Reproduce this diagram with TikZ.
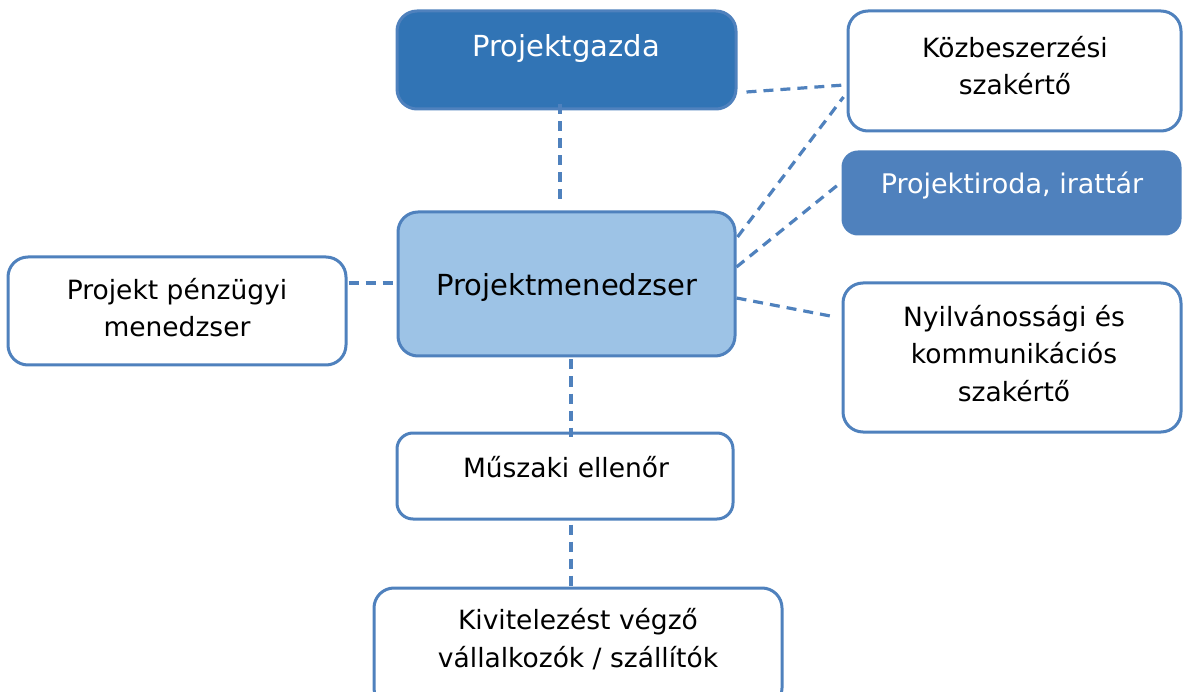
\documentclass[tikz,border=0pt]{standalone}
\usepackage{fontspec}
\setmainfont{DejaVu Sans}
\usetikzlibrary{calc}
\definecolor{dkblue}{HTML}{3174B5}
\definecolor{midblue}{HTML}{4F81BD}
\definecolor{ltblue}{HTML}{9DC3E6}
\definecolor{edge}{HTML}{4F81BD}
\begin{document}
\begin{tikzpicture}[x=1pt,y=-1pt,
  box/.style={draw=edge,line width=3pt,rounded corners=20pt,fill=white,inner sep=0pt},
  conn/.style={draw=edge,line width=3.2pt,dash pattern=on 10pt off 7pt},
  txt/.style={font=\fontsize{26.5}{37.5}\selectfont,align=center,anchor=base,inner sep=0pt},
  bigtxt/.style={font=\fontsize{29}{37.5}\selectfont,align=center,anchor=base,inner sep=0pt}]
\useasboundingbox (0,0) rectangle (1183,692);
% boxes
\node[box,fill=dkblue,minimum width=339pt,minimum height=98pt] (pg) at (566.5,60) {};
\node[box,minimum width=333pt,minimum height=120pt] (kb) at (1014.5,71) {};
\node[box,fill=midblue,draw=midblue,minimum width=337pt,minimum height=82pt,rounded corners=15pt] (pi) at (1011.5,193) {};
\node[box,fill=ltblue,minimum width=337pt,minimum height=144pt] (pm) at (566.5,284) {};
\node[box,minimum width=338pt,minimum height=108pt] (pf) at (177,311) {};
\node[box,minimum width=338pt,minimum height=149pt] (ny) at (1012,357.5) {};
\node[box,minimum width=336pt,minimum height=86pt,rounded corners=16pt] (me) at (565,476) {};
\node[box,minimum width=408pt,minimum height=120pt] (kv) at (578,648) {};
% texts (anchor base = baseline of the last line)
\node[bigtxt,text=white] (tpg) at (566,57) {Projektgazda};
\node[txt] (tkb) at (1015,95) {Közbeszerzési\\szakértő};
\node[txt,font=\fontsize{27}{37.5}\selectfont,text=white] (tpi) at (1012,194) {Projektiroda, irattár};
\node[bigtxt] (tpm) at (567,296) {Projektmenedzser};
\node[txt] (tpf) at (177,337) {Projekt pénzügyi\\menedzser};
\node[txt] (tny) at (1014,401) {Nyilvánossági és\\kommunikációs\\szakértő};
\node[txt] (tme) at (566,477) {Műszaki ellenőr};
\node[txt] (tkv) at (578,667) {Kivitelezést végző\\vállalkozók / szállítók};
% connectors
\draw[conn] ([xshift=-6.5pt,yshift=6pt]pg.south) -- ([xshift=-6.5pt,yshift=4pt]pm.north);
\draw[conn] ([xshift=9pt,yshift=-32pt]pg.east) -- ([xshift=-2pt,yshift=-14pt]kb.west);
\draw[conn] ([xshift=1pt,yshift=47pt]pm.east) -- ([xshift=-3pt,yshift=-26pt]kb.west);
\draw[conn] ([yshift=17pt]pm.east) -- ([yshift=11pt]pi.west);
\draw[conn] ([yshift=-14pt]pm.east) -- ([xshift=-6pt,yshift=40.5pt]ny.west);
\draw[conn] ([xshift=1pt,yshift=28pt]pf.east) -- ([xshift=-1pt,yshift=1pt]pm.west);
\draw[conn] ([xshift=4.5pt,yshift=-2pt]pm.south) -- ([xshift=6pt,yshift=-5pt]me.north);
\draw[conn] ([xshift=6pt,yshift=-4pt]me.south) -- ([xshift=-7pt,yshift=-2pt]kv.north);
\end{tikzpicture}
\end{document}
